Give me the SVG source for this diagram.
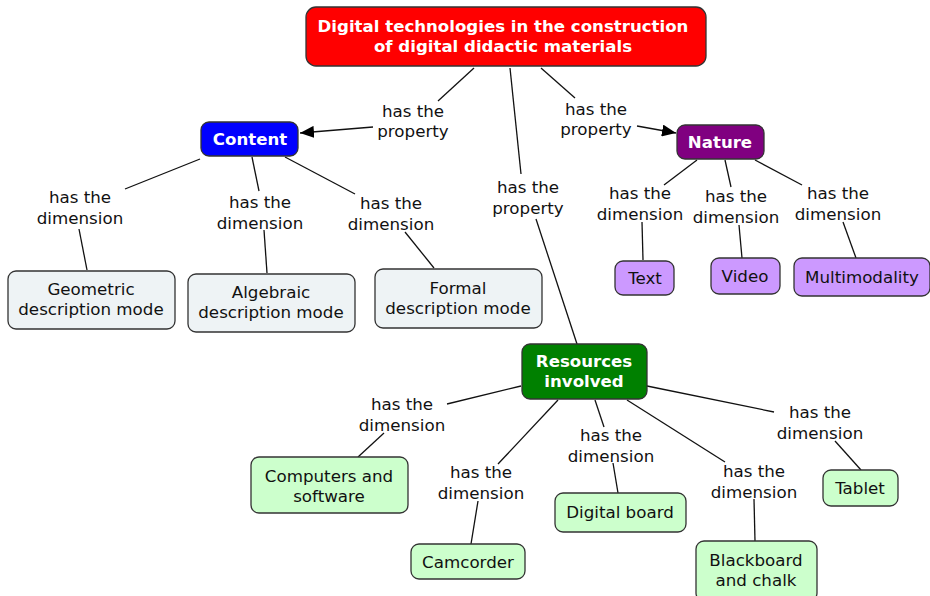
<svg xmlns="http://www.w3.org/2000/svg" width="930" height="596" viewBox="0 0 930 596">
<style>
.n rect{stroke:#333;stroke-width:1.3}
.t{font-family:"DejaVu Sans",Verdana,sans-serif;font-size:16.7px;text-anchor:middle;fill:#111}
.b{font-family:"DejaVu Sans",Verdana,sans-serif;font-size:16.6px;font-weight:bold;text-anchor:middle;fill:#fff}
.c line{stroke:#111;stroke-width:1.3}
.l{fill:#eef3f5}.p{fill:#cc99ff}.g{fill:#ccffcc}
</style>
<defs>
<marker id="ah" viewBox="0 0 14 12" refX="14" refY="6" markerWidth="14" markerHeight="12" markerUnits="userSpaceOnUse" orient="auto">
<path d="M0,0 L14,6 L0,12 Z" fill="#000"/>
</marker>
</defs>
<rect width="930" height="596" fill="#fff"/>
<g class="c">
<line x1="474" y1="68" x2="438" y2="101"/>
<line x1="373" y1="127" x2="300" y2="133" marker-end="url(#ah)"/>
<line x1="541" y1="68" x2="575" y2="98"/>
<line x1="637" y1="126" x2="676" y2="133" marker-end="url(#ah)"/>
<line x1="510" y1="68" x2="521" y2="174"/>
<line x1="536" y1="219" x2="577" y2="344"/>
<line x1="200" y1="159" x2="125" y2="189"/>
<line x1="79" y1="229" x2="87" y2="270"/>
<line x1="252" y1="157" x2="259" y2="191"/>
<line x1="264" y1="230" x2="267" y2="273"/>
<line x1="285" y1="157" x2="355" y2="194"/>
<line x1="405" y1="232" x2="434" y2="268"/>
<line x1="697" y1="160" x2="664" y2="185"/>
<line x1="642" y1="222" x2="643" y2="260"/>
<line x1="725" y1="160" x2="731" y2="187"/>
<line x1="739" y1="225" x2="742" y2="258"/>
<line x1="755" y1="160" x2="802" y2="185"/>
<line x1="843" y1="222" x2="856" y2="258"/>
<line x1="521" y1="386" x2="447" y2="404"/>
<line x1="384" y1="433" x2="358" y2="457"/>
<line x1="558" y1="400" x2="498" y2="464"/>
<line x1="478" y1="501" x2="471" y2="544"/>
<line x1="595" y1="400" x2="604" y2="427"/>
<line x1="613" y1="463" x2="618" y2="493"/>
<line x1="627" y1="400" x2="725" y2="462"/>
<line x1="754" y1="499" x2="755" y2="541"/>
<line x1="647" y1="386" x2="774" y2="412"/>
<line x1="835" y1="441" x2="861" y2="470"/>
</g>
<g id="labels">
<text class="t" x="413" y="117">has the<tspan x="413" dy="20">property</tspan></text>
<text class="t" x="596" y="115">has the<tspan x="596" dy="20">property</tspan></text>
<text class="t" x="528" y="193">has the<tspan x="528" dy="21">property</tspan></text>
<text class="t" x="80" y="203">has the<tspan x="80" dy="21">dimension</tspan></text>
<text class="t" x="260" y="208">has the<tspan x="260" dy="21">dimension</tspan></text>
<text class="t" x="391" y="209">has the<tspan x="391" dy="21">dimension</tspan></text>
<text class="t" x="640" y="199">has the<tspan x="640" dy="21">dimension</tspan></text>
<text class="t" x="736" y="202">has the<tspan x="736" dy="21">dimension</tspan></text>
<text class="t" x="838" y="199">has the<tspan x="838" dy="21">dimension</tspan></text>
<text class="t" x="402" y="410">has the<tspan x="402" dy="21">dimension</tspan></text>
<text class="t" x="481" y="478">has the<tspan x="481" dy="21">dimension</tspan></text>
<text class="t" x="611" y="441">has the<tspan x="611" dy="21">dimension</tspan></text>
<text class="t" x="754" y="477">has the<tspan x="754" dy="21">dimension</tspan></text>
<text class="t" x="820" y="418">has the<tspan x="820" dy="21">dimension</tspan></text>
</g>
<g id="main" class="n"><rect x="306" y="7" width="400" height="59" rx="10" fill="#ff0000"/>
<text class="b" x="503" y="32">Digital technologies in the construction<tspan x="503" dy="20">of digital didactic materials</tspan></text></g>
<g id="content" class="n"><rect x="201" y="122" width="97" height="34" rx="8" fill="#0000ff"/>
<text class="b" x="250" y="145">Content</text></g>
<g id="nature" class="n"><rect x="677" y="125" width="87" height="34" rx="8" fill="#800080"/>
<text class="b" x="720" y="148">Nature</text></g>
<g id="resources" class="n"><rect x="522" y="344" width="125" height="55" rx="8" fill="#008000"/>
<text class="b" x="584" y="367">Resources<tspan x="584" dy="20">involved</tspan></text></g>
<g id="geometric" class="n"><rect class="l" x="8" y="271" width="167" height="58" rx="8"/>
<text class="t" x="91" y="295">Geometric<tspan x="91" dy="20">description mode</tspan></text></g>
<g id="algebraic" class="n"><rect class="l" x="188" y="274" width="167" height="58" rx="8"/>
<text class="t" x="271" y="298">Algebraic<tspan x="271" dy="20">description mode</tspan></text></g>
<g id="formal" class="n"><rect class="l" x="375" y="269" width="167" height="59" rx="8"/>
<text class="t" x="458" y="294">Formal<tspan x="458" dy="20">description mode</tspan></text></g>
<g id="text" class="n"><rect class="p" x="615" y="261" width="59" height="34" rx="8"/>
<text class="t" x="645" y="284">Text</text></g>
<g id="video" class="n"><rect class="p" x="711" y="258" width="69" height="36" rx="8"/>
<text class="t" x="745" y="282">Video</text></g>
<g id="multimodality" class="n"><rect class="p" x="794" y="258" width="136" height="38" rx="8"/>
<text class="t" x="862" y="283">Multimodality</text></g>
<g id="computers" class="n"><rect class="g" x="251" y="457" width="157" height="56" rx="8"/>
<text class="t" x="329" y="482">Computers and<tspan x="329" dy="20">software</tspan></text></g>
<g id="camcorder" class="n"><rect class="g" x="411" y="544" width="114" height="35" rx="8"/>
<text class="t" x="468" y="568">Camcorder</text></g>
<g id="digitalboard" class="n"><rect class="g" x="555" y="493" width="131" height="39" rx="8"/>
<text class="t" x="620" y="518">Digital board</text></g>
<g id="blackboard" class="n"><rect class="g" x="696" y="541" width="121" height="60" rx="8"/>
<text class="t" x="756" y="566">Blackboard<tspan x="756" dy="20">and chalk</tspan></text></g>
<g id="tablet" class="n"><rect class="g" x="823" y="470" width="75" height="36" rx="8"/>
<text class="t" x="860" y="494">Tablet</text></g>
</svg>
